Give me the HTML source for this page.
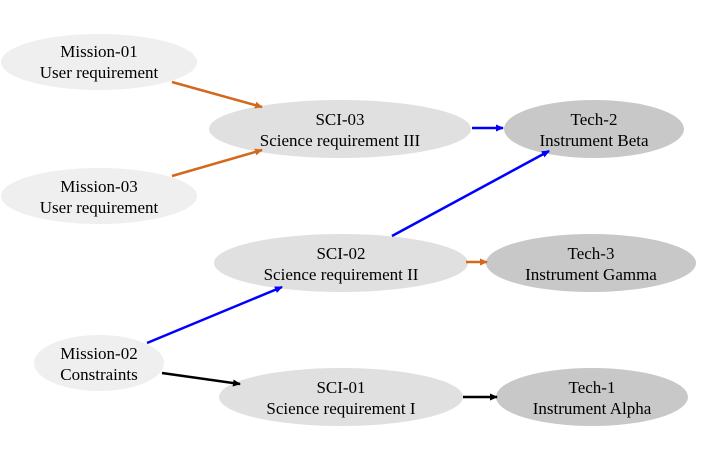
<!DOCTYPE html>
<html><head><meta charset="utf-8"><style>
html,body{margin:0;padding:0;background:#fff;}
svg{display:block;}
text{font-family:"Liberation Serif",serif;font-size:17px;fill:#000;text-anchor:middle;}
</style></head><body>
<svg width="704" height="459" viewBox="0 0 704 459" xmlns="http://www.w3.org/2000/svg">
<defs>
<marker id="ao" markerWidth="8" markerHeight="8" refX="7" refY="4" orient="auto" markerUnits="userSpaceOnUse"><path d="M0,0.5 L8,4 L0,7.5 z" fill="#d2691e"/></marker>
<marker id="ab" markerWidth="8" markerHeight="8" refX="7" refY="4" orient="auto" markerUnits="userSpaceOnUse"><path d="M0,0.5 L8,4 L0,7.5 z" fill="#0000ff"/></marker>
<marker id="ak" markerWidth="8" markerHeight="8" refX="7" refY="4" orient="auto" markerUnits="userSpaceOnUse"><path d="M0,0.5 L8,4 L0,7.5 z" fill="#000"/></marker>
</defs>
<g>
<ellipse cx="99" cy="62" rx="98" ry="28" fill="#efefef"/>
<ellipse cx="99" cy="196" rx="98" ry="28" fill="#efefef"/>
<ellipse cx="99" cy="363" rx="65" ry="28" fill="#efefef"/>
<ellipse cx="340" cy="129" rx="131" ry="29" fill="#e0e0e0"/>
<ellipse cx="341" cy="263" rx="127" ry="29" fill="#e0e0e0"/>
<ellipse cx="341" cy="397" rx="122" ry="29" fill="#e0e0e0"/>
<ellipse cx="594" cy="129" rx="90" ry="29" fill="#c8c8c8"/>
<ellipse cx="591" cy="263" rx="105" ry="29" fill="#c8c8c8"/>
<ellipse cx="592" cy="397" rx="96" ry="29" fill="#c8c8c8"/>
</g>
<g stroke-width="2.5" fill="none">
<line x1="172" y1="82" x2="262" y2="107" stroke="#d2691e" marker-end="url(#ao)"/>
<line x1="172" y1="176" x2="262" y2="150" stroke="#d2691e" marker-end="url(#ao)"/>
<line x1="472" y1="128" x2="503" y2="128" stroke="#0000ff" marker-end="url(#ab)"/>
<line x1="392" y1="236" x2="549" y2="151" stroke="#0000ff" marker-end="url(#ab)"/>
<line x1="466" y1="262" x2="487" y2="262" stroke="#d2691e" marker-end="url(#ao)"/>
<line x1="147" y1="343" x2="282" y2="287" stroke="#0000ff" marker-end="url(#ab)"/>
<line x1="162" y1="373" x2="240" y2="384" stroke="#000" marker-end="url(#ak)"/>
<line x1="463" y1="397" x2="497" y2="397" stroke="#000" marker-end="url(#ak)"/>
</g>
<g>
<text x="99" y="57">Mission-01</text><text x="99" y="78">User requirement</text>
<text x="99" y="192">Mission-03</text><text x="99" y="213">User requirement</text>
<text x="99" y="359">Mission-02</text><text x="99" y="380">Constraints</text>
<text x="340" y="125">SCI-03</text><text x="340" y="146">Science requirement III</text>
<text x="341" y="259">SCI-02</text><text x="341" y="280">Science requirement II</text>
<text x="341" y="393">SCI-01</text><text x="341" y="414">Science requirement I</text>
<text x="594" y="125">Tech-2</text><text x="594" y="146">Instrument Beta</text>
<text x="591" y="259">Tech-3</text><text x="591" y="280">Instrument Gamma</text>
<text x="592" y="393">Tech-1</text><text x="592" y="414">Instrument Alpha</text>
</g>
</svg>
</body></html>
